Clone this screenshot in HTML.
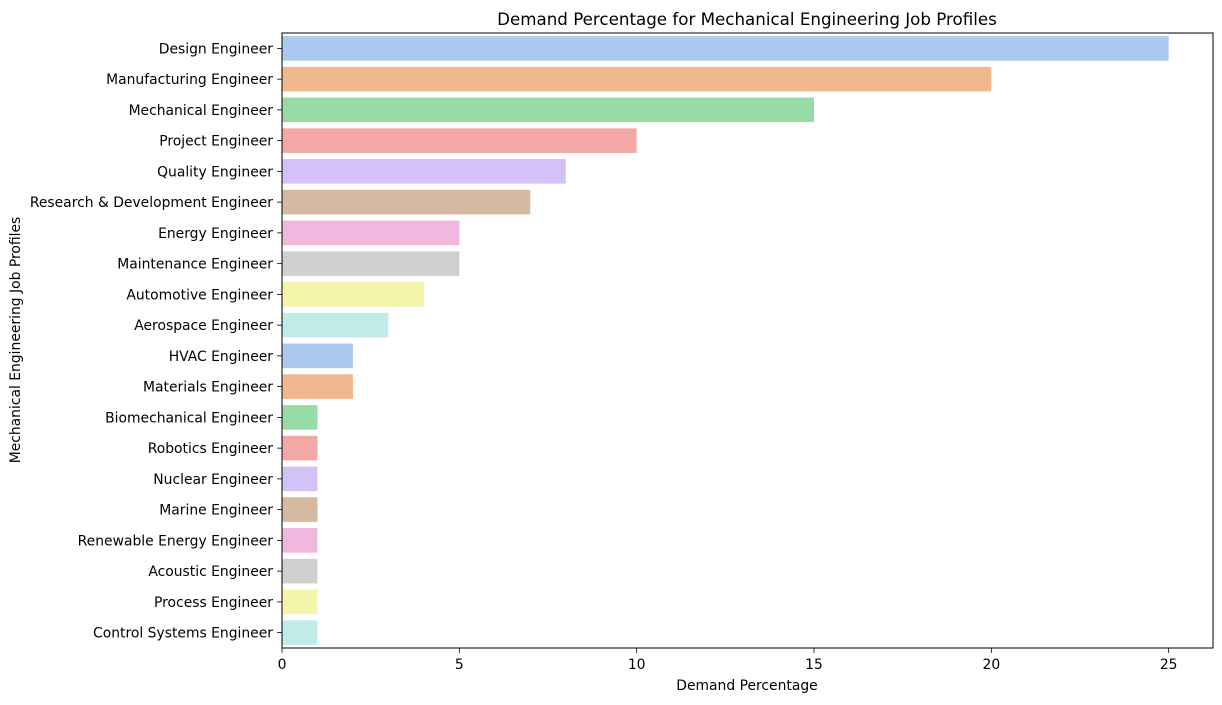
<!DOCTYPE html>
<html><head><meta charset="utf-8"><style>
body{margin:0;background:#fff;font-family:"DejaVu Sans",sans-serif}
</style></head><body>
<svg id="chart" width="1222" height="701" xmlns="http://www.w3.org/2000/svg" font-family="DejaVu Sans, sans-serif">
<text x="747" y="25" text-anchor="middle" font-size="16.7">Demand Percentage for Mechanical Engineering Job Profiles</text>
<text x="747" y="690" text-anchor="middle" font-size="13.9">Demand Percentage</text>
<text x="0" y="0" transform="translate(20,340) rotate(-90)" text-anchor="middle" font-size="13.9">Mechanical Engineering Job Profiles</text>
<g id="bars"></g><g id="axes"></g>
</svg>
<script>
const categories=["Design Engineer","Manufacturing Engineer","Mechanical Engineer","Project Engineer","Quality Engineer","Research & Development Engineer","Energy Engineer","Maintenance Engineer","Automotive Engineer","Aerospace Engineer","HVAC Engineer","Materials Engineer","Biomechanical Engineer","Robotics Engineer","Nuclear Engineer","Marine Engineer","Renewable Energy Engineer","Acoustic Engineer","Process Engineer","Control Systems Engineer"];
const values=[25,20,15,10,8,7,5,5,4,3,2,2,1,1,1,1,1,1,1,1];
const xTicks=[0,5,10,15,20,25];
const palette=["#abc8ee","#f1b890","#97dba7","#f2a9a5","#d3c2f8","#d5b9a0","#f1b8df","#d0d0d0","#f4f4ad","#c0ebe8"];
const L=282,R=1213,T=33,B=648,xMax=26.25;
const NS="http://www.w3.org/2000/svg";
const band=(B-T)/categories.length;
const x=v=>L+v/xMax*(R-L);
const y=i=>T+i*band;
const bars=document.getElementById('bars'),axes=document.getElementById('axes');
function mk(tag,a,parent){const e=document.createElementNS(NS,tag);for(const k in a)e.setAttribute(k,a[k]);parent.appendChild(e);return e;}
categories.forEach((c,i)=>{
 const r=mk('rect',{x:x(0),y:y(i)+band*0.1,width:x(values[i])-x(0),height:band*0.8,fill:palette[i%10]},bars);
 
 
 const cy=y(i)+band/2;
 mk('line',{x1:L-4.9,x2:L,y1:cy,y2:cy,stroke:'#000','stroke-width':0.8},axes);
 const t=mk('text',{x:L-9,y:cy+5,'text-anchor':'end','font-size':13.9},axes);
 t.textContent=c;
 
 
});
xTicks.forEach(v=>{
 mk('line',{x1:x(v),x2:x(v),y1:B,y2:B+4.9,stroke:'#000','stroke-width':0.8},axes);
 const t=mk('text',{x:x(v),y:B+21,'text-anchor':'middle','font-size':13.9},axes);
 t.textContent=v;
 
 
});
const f=mk('rect',{x:L,y:T,width:R-L,height:B-T,fill:'none',stroke:'#000','stroke-width':1},axes);


</script>
</body></html>
